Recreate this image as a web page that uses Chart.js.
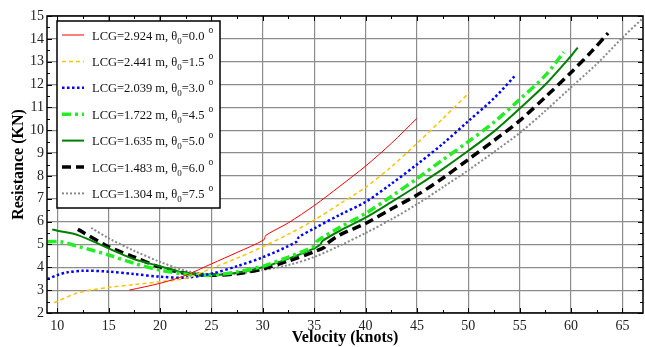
<!DOCTYPE html>
<html>
<head>
<meta charset="utf-8">
<script src="https://cdn.jsdelivr.net/npm/chart.js@4/dist/chart.umd.min.js"></script>
<style>
  html, body { margin: 0; padding: 0; background: #fff; }
  #wrap { width: 645px; height: 347px; }
</style>
</head>
<body>
<div id="wrap"><canvas id="chart" width="645" height="347"></canvas></div>
<script>
'use strict';

// ── Data ──────────────────────────────────────────────────────────────────────

const vel00 = [17.0, 20, 22.5, 25, 27.5, 30.1, 30.3, 32.5, 35, 37.5, 40, 42.5, 45];
const res00 = [3.0, 3.3, 3.65, 4.15, 4.65, 5.2, 5.4, 5.95, 6.7, 7.55, 8.43, 9.42, 10.52];

const vel15 = [9.7, 12, 15, 17.5, 20, 22.5, 25, 27.5, 30, 32.5, 35, 37.5, 40, 42.5, 45, 47.5, 50.1];
const res15 = [2.45, 2.88, 3.12, 3.24, 3.37, 3.52, 3.95, 4.4, 4.9, 5.45, 6.07, 6.78, 7.5, 8.4, 9.42, 10.5, 11.65];

const vel30 = [9.05, 10, 11, 12.5, 15, 17.5, 20, 22.5, 25, 27.5, 30, 33.3, 33.5, 35, 37.5, 40, 42.5, 45, 47.5, 50, 52.5, 54.6];
const res30 = [3.49, 3.66, 3.78, 3.85, 3.81, 3.7, 3.59, 3.55, 3.72, 4.05, 4.44, 5.12, 5.32, 5.7, 6.3, 6.86, 7.65, 8.5, 9.4, 10.4, 11.4, 12.41];

const vel45 = [9.05, 10.3, 12, 15, 17.5, 20, 22.5, 25, 27.5, 30, 32.5, 35, 35.3, 37.5, 40, 42.5, 45, 47.5, 50, 52.5, 55, 57.5, 59.3];
const res45 = [5.12, 5.12, 4.92, 4.54, 4.17, 3.88, 3.7, 3.66, 3.8, 4.05, 4.45, 4.92, 5.15, 5.75, 6.36, 7.1, 7.88, 8.7, 9.5, 10.35, 11.35, 12.4, 13.42];

const vel50 = [9.5, 10, 12, 15, 17.5, 20, 22.5, 25, 27.5, 30, 32.5, 35, 35.6, 35.8, 37.5, 40, 42.5, 45, 47.5, 50, 52.5, 55, 57.5, 60, 60.65];
const res50 = [5.66, 5.6, 5.41, 4.83, 4.35, 4.05, 3.75, 3.66, 3.76, 4.0, 4.38, 4.83, 5.0, 5.15, 5.6, 6.17, 6.85, 7.56, 8.3, 9.1, 9.95, 10.95, 12.0, 13.25, 13.62];

const vel60 = [12, 15, 17.5, 20, 22.5, 25, 27.5, 30, 32.5, 35, 36, 36.2, 37.5, 40, 42.5, 45, 47.5, 50, 52.5, 55, 57.5, 60, 62, 63.6];
const res60 = [5.66, 4.9, 4.45, 4.0, 3.74, 3.65, 3.72, 3.93, 4.28, 4.68, 4.88, 5.02, 5.42, 5.92, 6.55, 7.16, 7.9, 8.72, 9.55, 10.42, 11.45, 12.53, 13.45, 14.25];

const vel75 = [13.3, 15, 17.5, 20, 22.5, 25, 27.5, 30, 32.5, 35, 37.5, 40, 42.5, 45, 47.5, 50, 52.5, 55, 57.5, 60, 62.5, 65, 67.1];
const res75 = [5.73, 5.27, 4.72, 4.24, 3.85, 3.7, 3.72, 3.88, 4.1, 4.45, 4.95, 5.5, 6.1, 6.76, 7.5, 8.25, 9.05, 9.88, 10.85, 11.88, 12.9, 14.05, 14.95];

const lcgValues   = ['2.924', '2.441', '2.039', '1.722', '1.635', '1.483', '1.304'];
const trimAngles  = ['0.0', '1.5', '3.0', '4.5', '5.0', '6.0', '7.5'];
const xTickValues = [10, 15, 20, 25, 30, 35, 40, 45, 50, 55, 60, 65];
const yTickValues = [2, 3, 4, 5, 6, 7, 8, 9, 10, 11, 12, 13, 14, 15];

const velocities  = [vel00, vel15, vel30, vel45, vel50, vel60, vel75];
const resistances = [res00, res15, res30, res45, res50, res60, res75];

// ── Styles ────────────────────────────────────────────────────────────────────

const lineStyles = [
  { color: '#ff0000', width: 1,   dash: [] },
  { color: '#ffc400', width: 1.5, dash: [4, 3] },
  { color: '#0000ff', width: 2.5, dash: [2.5, 2.5] },
  { color: '#22ee22', width: 3.5, dash: [9, 4, 3, 4] },
  { color: '#008000', width: 2,   dash: [] },
  { color: '#000000', width: 3.5, dash: [9, 5] },
  { color: '#8a8a8a', width: 2,   dash: [2, 2] },
];

const SERIF = "'Liberation Serif', 'Times New Roman', serif";

// ── Plugins ───────────────────────────────────────────────────────────────────

// frame on all four sides with inward major/minor ticks
const framePlugin = {
  id: 'frame',
  afterDatasetsDraw(chart) {
    const { ctx, chartArea: a, scales: { x, y } } = chart;
    ctx.save();
    ctx.strokeStyle = '#000';
    ctx.lineWidth = 1;
    ctx.setLineDash([]);
    ctx.beginPath();
    for (let v = 10; v <= 67; v += 2.5) {
      const px = Math.round(x.getPixelForValue(v)) + 0.5;
      const len = (v % 5 === 0) ? 5 : 3;
      ctx.moveTo(px, a.bottom); ctx.lineTo(px, a.bottom - len);
      ctx.moveTo(px, a.top); ctx.lineTo(px, a.top + len);
    }
    for (let v = 2; v <= 15; v += 0.5) {
      const py = Math.round(y.getPixelForValue(v)) + 0.5;
      const len = (v % 1 === 0) ? 5 : 3;
      ctx.moveTo(a.left, py); ctx.lineTo(a.left + len, py);
      ctx.moveTo(a.right, py); ctx.lineTo(a.right - len, py);
    }
    ctx.stroke();
    ctx.lineWidth = 1.5;
    ctx.strokeRect(a.left, a.top, a.right - a.left, a.bottom - a.top);
    ctx.restore();
  },
};

// legend with subscripts / superscripts
const legendPlugin = {
  id: 'sublegend',
  afterDraw(chart) {
    const { ctx } = chart;
    const bx = 57, by = 21, bw = 163, bh = 187;
    ctx.save();
    ctx.fillStyle = '#fff';
    ctx.fillRect(bx, by, bw, bh);
    ctx.strokeStyle = '#000';
    ctx.lineWidth = 1.5;
    ctx.setLineDash([]);
    ctx.strokeRect(bx, by, bw, bh);

    lineStyles.forEach((s, i) => {
      const rowY = 35 + i * 26.4;
      ctx.strokeStyle = s.color;
      ctx.lineWidth = s.width;
      ctx.setLineDash(s.dash);
      ctx.beginPath();
      ctx.moveTo(62, rowY);
      ctx.lineTo(84, rowY);
      ctx.stroke();
      ctx.setLineDash([]);

      ctx.fillStyle = '#111';
      ctx.textBaseline = 'alphabetic';
      let tx = 92;
      const base = rowY + 4.5;
      ctx.font = `12.5px ${SERIF}`;
      const main = `LCG=${lcgValues[i]} m, θ`;
      ctx.fillText(main, tx, base);
      tx += ctx.measureText(main).width;
      ctx.font = `9px ${SERIF}`;
      ctx.fillText('0', tx, base + 4);
      tx += ctx.measureText('0').width;
      ctx.font = `12.5px ${SERIF}`;
      const ang = `=${trimAngles[i]}`;
      ctx.fillText(ang, tx, base);
      tx += ctx.measureText(ang).width + 4;
      ctx.font = `9.5px ${SERIF}`;
      ctx.fillText('o', tx, base - 7);
    });
    ctx.restore();
  },
};

// ── Chart ─────────────────────────────────────────────────────────────────────

const datasets = velocities.map((vel, i) => ({
  label: `LCG=${lcgValues[i]} m, θ0=${trimAngles[i]}`,
  data: vel.map((v, j) => ({ x: v, y: resistances[i][j] })),
  borderColor: lineStyles[i].color,
  borderWidth: lineStyles[i].width,
  borderDash: lineStyles[i].dash,
  backgroundColor: 'transparent',
  pointRadius: 0,
  tension: 0.3,
  fill: false,
}));

new Chart(document.getElementById('chart').getContext('2d'), {
  type: 'line',
  data: { datasets },
  plugins: [framePlugin, legendPlugin],
  options: {
    responsive: false,
    animation: false,
    devicePixelRatio: 1,
    layout: { padding: { top: 16, right: 2, left: 0, bottom: 0 } },
    plugins: {
      legend: { display: false },
      tooltip: { enabled: false },
    },
    scales: {
      x: {
        type: 'linear',
        min: 9,
        max: 67,
        afterBuildTicks: s => { s.ticks = xTickValues.map(v => ({ value: v })); },
        afterFit: s => { s.height = 34; },
        grid: { color: '#8c8c8c', lineWidth: 1.2, drawTicks: false },
        border: { display: false },
        ticks: {
          color: '#222',
          padding: 5,
          maxRotation: 0,
          autoSkip: false,
          font: { size: 14, family: SERIF },
        },
        title: {
          display: true,
          text: 'Velocity (knots)',
          color: '#000',
          padding: { top: 0, bottom: 0 },
          font: { size: 16, weight: 'bold', family: SERIF },
        },
      },
      y: {
        type: 'linear',
        min: 2,
        max: 15,
        afterBuildTicks: s => { s.ticks = yTickValues.map(v => ({ value: v })); },
        afterFit: s => { s.width = 47; },
        grid: { color: '#8c8c8c', lineWidth: 1.2, drawTicks: false },
        border: { display: false },
        ticks: {
          color: '#222',
          padding: 3,
          autoSkip: false,
          font: { size: 14, family: SERIF },
        },
        title: {
          display: true,
          text: 'Resistance (KN)',
          color: '#000',
          padding: { top: 9, bottom: 0 },
          font: { size: 16, weight: 'bold', family: SERIF },
        },
      },
    },
  },
});
</script>
</body>
</html>
